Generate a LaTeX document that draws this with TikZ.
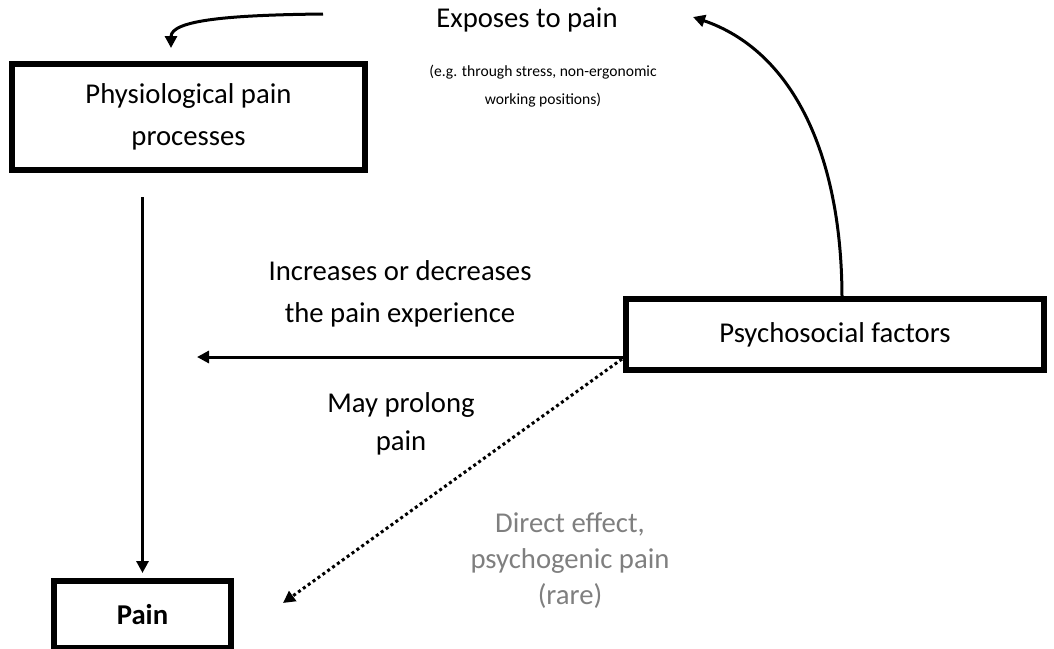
\documentclass[tikz,border=0pt]{standalone}
\usepackage{fontspec}
\setmainfont{Carlito}
\usetikzlibrary{arrows.meta,calc}
\definecolor{textgray}{HTML}{7F7F7F}
\begin{document}
\begin{tikzpicture}[x=1pt,y=-1pt,
  box/.style={draw,line width=6pt,inner sep=0pt,outer sep=0pt,align=center,
    font=\fontsize{28.7}{42}\selectfont},
  lbl/.style={inner sep=0pt,align=center,font=\fontsize{28.7}{42}\selectfont},
  small/.style={inner sep=0pt,align=center,font=\fontsize{15.6}{28}\selectfont},
  conn/.style={line width=3pt,-{Triangle[length=12pt,width=12pt]}},
  dotconn/.style={line width=3pt,dash pattern=on 3pt off 3pt,-{Triangle[length=12pt,width=12pt]}}]
\useasboundingbox (0,0) rectangle (1054,648);

\node[box,minimum width=353pt,minimum height=106pt] (phys) at (188.5,117) {Physiological pain\\processes};
\node[box,minimum width=418pt,minimum height=71pt] (psycho) at (835,334.5) {Psychosocial factors};
\node[box,minimum width=177pt,minimum height=67pt,font=\fontsize{28.7}{42}\selectfont\bfseries] (pain) at (142.5,614.5) {Pain};

\node[lbl] (expose) at (527,20) {Exposes to pain};
\node[small] (eg) at (543,86) {(e.g. through stress, non-ergonomic\\working positions)};
\node[lbl] (incr) at (400,294) {Increases or decreases\\the pain experience};
\node[lbl,font=\fontsize{28.7}{38}\selectfont] (may) at (401,424) {May prolong\\pain};
\node[lbl,text=textgray,font=\fontsize{28.7}{36}\selectfont] (direct) at (570,561) {Direct effect,\\psychogenic pain\\(rare)};

\coordinate (tlstart) at (323,14);
\coordinate (expend) at (693,17);
\coordinate (hend) at (197,357);
\coordinate (dend) at (283,603);

% physiological -> pain
\draw[conn,shorten <=27pt,shorten >=8pt] (pain.north |- phys.south) -- (pain.north);
% exposes arrow into physiological box
\draw[conn,shorten >=16pt] (tlstart) .. controls (230,15) and (171,20) .. ($(phys.north west)+(159,0)$);
% psychosocial -> exposes
\draw[conn] ($(psycho.north)+(7,0)$) .. controls (842,150) and (790,50) .. (expend);
% psychosocial -> horizontal
\draw[conn] ($(psycho.south west)+(-3,-13)$) -- (hend);
% dotted
\draw[dotconn] ($(psycho.south west)+(-4,-11)$) -- (dend);
\end{tikzpicture}
\end{document}
